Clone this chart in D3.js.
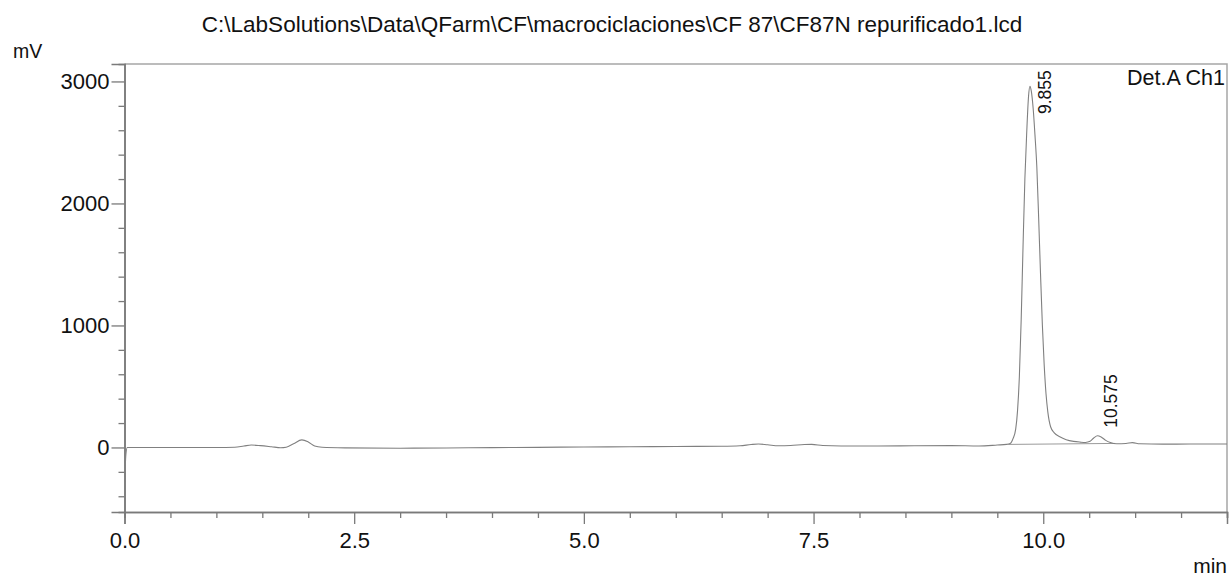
<!DOCTYPE html>
<html lang="en">
<head>
    <meta charset="utf-8">
    <title>Chromatogram</title>
    <script src="https://cdn.jsdelivr.net/npm/d3@7"></script>
    <style>
        body { margin: 0; background: #fff; }
        svg { display: block; font-family: "Liberation Sans", Arial, sans-serif; }
    </style>
</head>
<body>

<div id="chart"></div>

<script>
    // chromatogram trace (time in min, signal in mV)
    const traceTime = [
        0.000, 0.015, 0.030, 0.50, 1.00, 1.20, 1.30, 1.38, 1.48, 1.60,
        1.70, 1.76, 1.84, 1.93, 2.00, 2.07, 2.15, 2.40, 3.00, 3.50,
        4.00, 4.50, 5.00, 5.50, 6.00, 6.50, 6.70, 6.82, 6.90, 7.00,
        7.12, 7.25, 7.40, 7.48, 7.60, 7.80, 8.20, 8.60, 9.00, 9.30,
        9.50, 9.60, 9.64, 9.67, 9.70, 9.72, 9.74, 9.76, 9.78, 9.80,
        9.82, 9.84, 9.855, 9.87, 9.89, 9.91, 9.93, 9.95, 9.97, 9.99,
        10.01, 10.03, 10.05, 10.08, 10.12, 10.18, 10.25, 10.33, 10.40, 10.46,
        10.51, 10.55, 10.59, 10.63, 10.68, 10.73, 10.80, 10.90, 10.97, 11.05,
        11.30, 11.60, 12.00
    ];
    const traceMv = [
        -340, -60, 0, 0, 0, 2, 12, 20, 15, 6,
        -2, 2, 30, 62, 45, 12, 2, -3, -6, -4,
        -1, 1, 4, 6, 8, 10, 14, 24, 28, 22,
        14, 16, 24, 25, 16, 12, 12, 14, 15, 12,
        20, 25, 32, 70, 150, 300, 580, 1050, 1650, 2200,
        2580, 2880, 2960, 2920, 2780, 2560, 2300, 1880, 1430, 1010,
        680, 440, 290, 170, 120, 88, 64, 50, 44, 41,
        50, 78, 96, 86, 58, 40, 30, 32, 40, 30,
        27, 28, 28
    ];

    // integration baseline under the two labelled peaks
    const baselineTime = [9.62, 10.78];
    const baselineMv = [25, 33];

    // labelled peaks
    const peakTime = [9.855, 10.575];
    const peakMv = [2960, 96];
    const peakLabel = ["9.855", "10.575"];

    // axis ticks
    const xTickValues = [0, 2.5, 5, 7.5, 10];
    const xTickLabels = ["0.0", "2.5", "5.0", "7.5", "10.0"];
    const yTickValues = [0, 1000, 2000, 3000];
    const yTickLabels = ["0", "1000", "2000", "3000"];

    const title = "C:\\LabSolutions\\Data\\QFarm\\CF\\macrociclaciones\\CF 87\\CF87N repurificado1.lcd";

    // plot geometry
    const W = 1230, H = 577;
    const margin = {top: 64, right: 3, bottom: 65, left: 124.5};
    const width = W - margin.left - margin.right;
    const height = H - margin.top - margin.bottom;

    const svg = d3.select("#chart")
        .append("svg")
            .attr("width", W)
            .attr("height", H);

    const x = d3.scaleLinear().domain([0, 12]).range([0, width]);
    const y = d3.scaleLinear().domain([-529, 3143]).range([height, 0]);

    const g = svg.append("g")
        .attr("transform", "translate(" + margin.left + "," + margin.top + ")");

    // top and right frame
    g.append("path")
        .attr("d", "M0,0H" + width + "V" + height)
        .attr("fill", "none")
        .attr("stroke", "#a6a6a6")
        .attr("stroke-width", 1.5);

    // minor ticks
    const xMinor = d3.range(0, 12.01, 0.5).filter(v => !xTickValues.includes(v));
    const yMinor = d3.range(-400, 3001, 200).filter(v => !yTickValues.includes(v));

    const xAxis = g.append("g")
        .attr("transform", "translate(0," + height + ")");
    xAxis.call(d3.axisBottom(x).tickValues(xMinor).tickSize(6).tickFormat(""));
    xAxis.append("g").call(d3.axisBottom(x).tickValues(xTickValues).tickSize(12)
        .tickFormat((d, i) => xTickLabels[i]).tickPadding(8));

    const yAxis = g.append("g");
    yAxis.call(d3.axisLeft(y).tickValues(yMinor).tickSize(6).tickFormat(""));
    yAxis.append("g").call(d3.axisLeft(y).tickValues(yTickValues).tickSize(13)
        .tickFormat((d, i) => yTickLabels[i]).tickPadding(2));

    svg.selectAll(".domain").attr("stroke", "#7a7a7a").attr("stroke-width", 1.5);
    svg.selectAll(".tick line").attr("stroke", "#7a7a7a").attr("stroke-width", 1.3);
    svg.selectAll(".tick text")
        .attr("fill", "#111")
        .style("font-size", "22px")
        .style("font-family", "'Liberation Sans', Arial, sans-serif");

    // clip for the trace
    g.append("clipPath").attr("id", "clip")
        .append("rect").attr("width", width).attr("height", height);

    const line = d3.line()
        .x(d => x(d[0]))
        .y(d => y(d[1]))
        .curve(d3.curveMonotoneX);

    const baseData = baselineTime.map((t, i) => [t, baselineMv[i]]);
    g.append("path")
        .datum(baseData)
        .attr("clip-path", "url(#clip)")
        .attr("fill", "none")
        .attr("stroke", "#9a9a9a")
        .attr("stroke-width", 1)
        .attr("d", d3.line().x(d => x(d[0])).y(d => y(d[1])));

    const traceData = traceTime.map((t, i) => [t, traceMv[i]]);
    g.append("path")
        .datum(traceData)
        .attr("clip-path", "url(#clip)")
        .attr("fill", "none")
        .attr("stroke", "#808080")
        .attr("stroke-width", 1.1)
        .attr("d", line);

    // peak retention time labels, rotated
    g.selectAll(".peak-label")
        .data(peakTime)
        .enter()
        .append("text")
            .attr("class", "peak-label")
            .attr("transform", (d, i) => {
                const px = x(d) + 21;
                const py = Math.max(y(peakMv[i]) - 8, 50);
                return "translate(" + px + "," + py + ") rotate(-90)";
            })
            .attr("fill", "#111")
            .style("font-size", "17.5px")
            .text((d, i) => peakLabel[i]);

    // detector label
    g.append("text")
        .attr("x", width - 2)
        .attr("y", 21)
        .attr("text-anchor", "end")
        .attr("fill", "#111")
        .style("font-size", "21.5px")
        .text("Det.A Ch1");

    // axis unit labels
    svg.append("text")
        .attr("x", 13)
        .attr("y", 58)
        .attr("fill", "#111")
        .style("font-size", "19.5px")
        .text("mV");

    svg.append("text")
        .attr("x", 1227)
        .attr("y", 573)
        .attr("text-anchor", "end")
        .attr("fill", "#111")
        .style("font-size", "21px")
        .text("min");

    // title
    svg.append("text")
        .attr("x", 612)
        .attr("y", 32)
        .attr("text-anchor", "middle")
        .attr("fill", "#111")
        .style("font-size", "22.5px")
        .text(title);
</script>

</body>
</html>
